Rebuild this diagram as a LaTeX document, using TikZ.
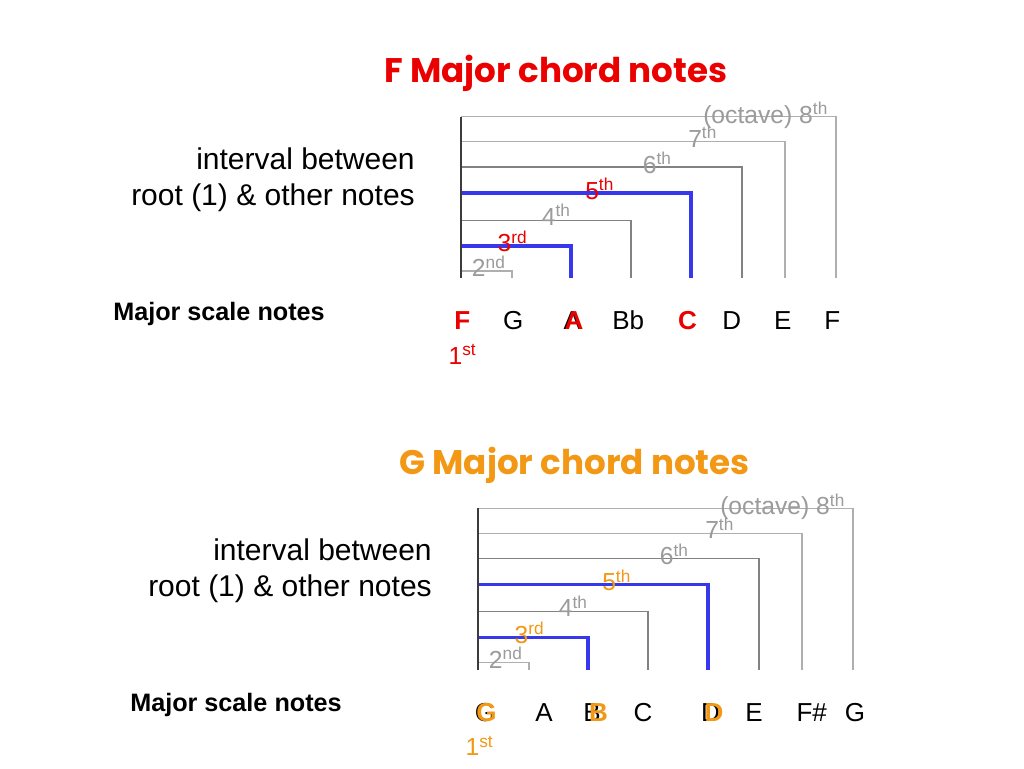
\documentclass[tikz,border=0pt]{standalone}
\usepackage{fontspec}
\setmainfont{Liberation Sans}
\newfontfamily\titlefont{Poppins}
\definecolor{cred}{RGB}{235,0,0}
\definecolor{corange}{RGB}{242,152,20}
\definecolor{cblue}{RGB}{55,55,235}
\definecolor{lgray}{RGB}{175,175,175}
\definecolor{mgray}{RGB}{130,130,130}
\definecolor{axisgray}{RGB}{60,60,60}
\definecolor{lblgray}{RGB}{155,155,155}
\tikzset{
  lightline/.style={draw=lgray, line width=0.8pt},
  midline/.style={draw=mgray, line width=0.8pt},
  blueline/.style={draw=cblue, line width=2.3pt},
  axisline/.style={draw=axisgray, line width=0.8pt},
  lbl/.style={anchor=base west, inner sep=0pt, text=lblgray, font=\fontsize{18.5}{20}\selectfont},
  notetxt/.style={anchor=base, inner sep=0pt, font=\fontsize{19.5}{22}\selectfont},
  boldnote/.style={notetxt, font=\fontsize{19.5}{22}\selectfont\bfseries},
  sidetxt/.style={anchor=base east, inner sep=0pt, align=right, font=\fontsize{22.5}{27}\selectfont},
  scaletxt/.style={anchor=base west, inner sep=0pt, font=\fontsize{18.9}{22}\selectfont\bfseries},
  titletxt/.style={anchor=base, inner sep=0pt, font=\fontsize{25.6}{28}\selectfont\titlefont\bfseries},
}
\newcommand\intervalchart[1]{%
  \coordinate (top) at (461,116.7);
  \coordinate (bot) at (461,278);
  \draw[lightline] (461,116.7) -| (836,278);
  \draw[lightline] (461,141.7) -| (785,278);
  \draw[midline]   (461,167)   -| (742,278);
  \draw[blueline]  (461,193)   -| (691,278);
  \draw[midline]   (461,220.3) -| (631,278);
  \draw[blueline]  (461,246)   -| (571,278);
  \draw[lightline] (461,271)   -| (512,278);
  \draw[axisline] (top) -- (bot);
  \node[lbl] (oct) at (703,123.3) {(octave) 8\textsuperscript{th}};
  \node[lbl] (sev) at (688,147.3) {7\textsuperscript{th}};
  \node[lbl] (six) at (642.7,173) {6\textsuperscript{th}};
  \node[lbl, text=#1] (fif) at (585,199) {5\textsuperscript{th}};
  \node[lbl] (fou) at (541.7,225.3) {4\textsuperscript{th}};
  \node[lbl, text=#1] (thi) at (497.3,251.7) {3\textsuperscript{rd}};
  \node[lbl] (sec) at (471.7,276.7) {2\textsuperscript{nd}};
  \node[sidetxt] (interval) at (415,205) {interval between\\root (1) \& other notes};
  \node[scaletxt] (scale) at (113,320) {Major scale notes};
  \node[lbl, text=#1] (first) at (448.3,364) {1\textsuperscript{st}};
}
\begin{document}
\begin{tikzpicture}[x=0.75pt, y=-0.75pt]
  \useasboundingbox[fill=white] (0,0) rectangle (1024,768);
  % ---------- F major ----------
  \begin{scope}[name prefix=f-]
    \node[titletxt, text=cred] (title) at (556,82) {F Major chord notes};
    \intervalchart{cred}
    \node[boldnote, text=cred] (n1) at (462.3,329.3) {F};
    \node[notetxt] (n2) at (513.3,329.3) {G};
    \node[notetxt] (n3b) at (572.3,329.3) {A};
    \node[boldnote, text=cred] (n3) at (574,329.3) {A};
    \node[notetxt] (n4) at (628.3,329.3) {Bb};
    \node[boldnote, text=cred] (n5) at (687.5,329.3) {C};
    \node[notetxt] (n6) at (731.7,329.3) {D};
    \node[notetxt] (n7) at (782.7,329.3) {E};
    \node[notetxt] (n8) at (832.3,329.3) {F};
  \end{scope}
  % ---------- G major ----------
  \begin{scope}[name prefix=g-]
    \node[titletxt, text=corange] (title) at (574.5,474) {G Major chord notes};
    \begin{scope}[shift={(17,391.5)}]
      \intervalchart{corange}
    \end{scope}
    \node[notetxt] (n1b) at (485,721.3) {G};
    \node[boldnote, text=corange] (n1) at (486.5,721.3) {G};
    \node[notetxt] (n2) at (544,721.3) {A};
    \node[notetxt] (n3b) at (592,721.3) {B};
    \node[boldnote, text=corange] (n3) at (598.5,721.3) {B};
    \node[notetxt] (n4) at (643,721.3) {C};
    \node[notetxt] (n5b) at (710.5,721.3) {D};
    \node[boldnote, text=corange] (n5) at (714,721.3) {D};
    \node[notetxt] (n6) at (754,721.3) {E};
    \node[notetxt] (n7) at (811.7,721.3) {F\#};
    \node[notetxt] (n8) at (855,721.3) {G};
  \end{scope}
\end{tikzpicture}
\end{document}
